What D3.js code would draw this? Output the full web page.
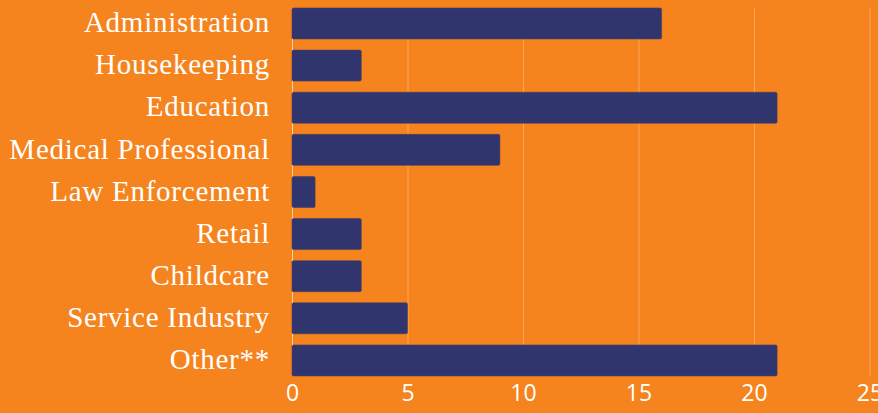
<!DOCTYPE html>
<html>
<head>
<meta charset="utf-8">
<script src="https://cdn.jsdelivr.net/npm/d3@7"></script>
<style>
  html, body { margin: 0; padding: 0; background: #F5841F; overflow: hidden; }
  svg { display: block; }
</style>
</head>
<body>
<div id="bar-chart"></div>
<script>
const categories = ['Administration', 'Housekeeping', 'Education', 'Medical Professional',
    'Law Enforcement', 'Retail', 'Childcare', 'Service Industry', 'Other**'];
const counts = [16, 3, 21, 9, 1, 3, 3, 5, 21];
const tickValues = [0, 5, 10, 15, 20, 25];

function drawBarChart() {
    const W = 878, H = 413;
    const margin = {left: 292, top: 2.4};

    const svg = d3.select('#bar-chart')
        .append('svg')
        .attr('width', W)
        .attr('height', H);

    svg.append('rect')
        .attr('width', W)
        .attr('height', H)
        .attr('fill', '#F5841F');

    const x = d3.scaleLinear()
        .domain([0, 25])
        .range([margin.left, margin.left + 577.5]);

    const y = d3.scaleBand()
        .domain(categories)
        .range([margin.top, margin.top + 379.1])
        .paddingInner(0.264)
        .paddingOuter(0.132);

    const gridTop = y(categories[0]);
    const gridBottom = y(categories[categories.length - 1]) + y.bandwidth();

    // vertical gridlines
    svg.append('g')
        .selectAll('line')
        .data(tickValues)
        .join('line')
        .attr('x1', d => x(d) + 0.5)
        .attr('x2', d => x(d) + 0.5)
        .attr('y1', gridTop)
        .attr('y2', gridBottom)
        .attr('stroke', d => d === 0 ? 'rgba(255,240,220,0.7)' : 'rgba(255,230,200,0.35)')
        .attr('stroke-width', 1);

    // bars
    svg.append('g')
        .selectAll('rect')
        .data(counts)
        .join('rect')
        .attr('x', x(0))
        .attr('y', (d, i) => y(categories[i]))
        .attr('width', d => x(d) - x(0))
        .attr('height', y.bandwidth())
        .attr('rx', 1.5)
        .attr('fill', '#30356E')
        .attr('stroke', '#4a3f5f')
        .attr('stroke-width', 0.6);

    // category labels
    svg.append('g')
        .selectAll('text')
        .data(categories)
        .join('text')
        .attr('x', x(0) - 22)
        .attr('y', d => y(d) + y.bandwidth() / 2)
        .attr('dy', '0.3em')
        .attr('text-anchor', 'end')
        .attr('fill', '#fff')
        .style('font-family', '"Liberation Serif", "DejaVu Serif", serif')
        .style('font-size', '29px')
        .style('letter-spacing', '0.75px')
        .text(d => d);

    // x axis (the last label runs off the right edge, as in the source)
    const xAxis = svg.append('g')
        .attr('transform', `translate(0,${gridBottom})`)
        .call(d3.axisBottom(x).tickValues(tickValues).tickSize(0).tickPadding(6));
    xAxis.select('.domain').remove();
    xAxis.selectAll('text')
        .attr('fill', '#fff')
        .attr('dy', '0.85em')
        .style('font-family', '"Open Sans", sans-serif')
        .style('font-size', '23px');
}

drawBarChart();
</script>
</body>
</html>
